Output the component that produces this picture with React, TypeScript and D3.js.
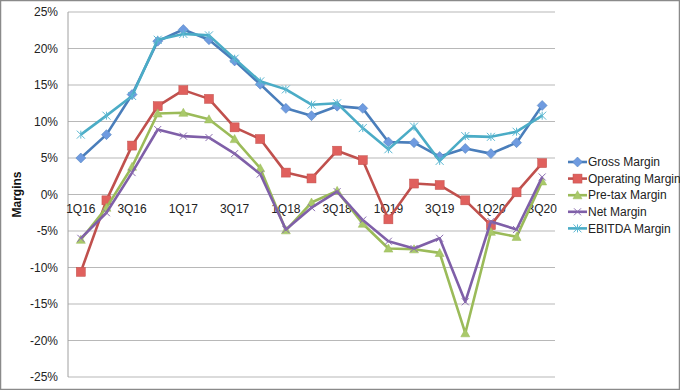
import React from "react";
import * as d3 from "d3";

const categories = ["1Q16","2Q16","3Q16","4Q16","1Q17","2Q17","3Q17","4Q17","1Q18","2Q18","3Q18","4Q18","1Q19","2Q19","3Q19","4Q19","1Q20","2Q20","3Q20"];
const grossMargin = [5.0, 8.2, 13.7, 21.0, 22.6, 21.2, 18.3, 15.1, 11.8, 10.8, 12.1, 11.8, 7.2, 7.1, 5.2, 6.3, 5.6, 7.1, 12.2];
const operatingMargin = [-10.6, -0.8, 6.7, 12.1, 14.3, 13.1, 9.2, 7.6, 3.0, 2.2, 6.0, 4.7, -3.4, 1.5, 1.3, -0.8, -4.2, 0.3, 4.3];
const pretaxMargin = [-6.2, -1.8, 3.8, 11.1, 11.2, 10.3, 7.6, 3.6, -4.9, -1.1, 0.5, -4.0, -7.4, -7.5, -8.0, -19.0, -5.1, -5.8, 1.8];
const netMargin = [-6.0, -2.5, 3.0, 8.9, 8.0, 7.8, 5.6, 2.8, -4.8, -1.8, 0.4, -3.5, -6.4, -7.4, -6.0, -14.7, -3.7, -4.8, 2.4];
const ebitdaMargin = [8.2, 10.8, 13.5, 21.2, 22.0, 21.8, 18.6, 15.5, 14.4, 12.3, 12.5, 9.1, 6.2, 9.3, 4.6, 8.0, 7.9, 8.6, 10.8];
const yTicks = [25, 20, 15, 10, 5, 0, -5, -10, -15, -20, -25];
const seriesNames = ["Gross Margin", "Operating Margin", "Pre-tax Margin", "Net Margin", "EBITDA Margin"];

const seriesData = [grossMargin, operatingMargin, pretaxMargin, netMargin, ebitdaMargin];
const colors = ["#4a7ebb", "#c0504d", "#9bbb59", "#7f5fa8", "#4bacc6"];
const markerColors = ["#6f9be0", "#e0605d", "#a9c96a", "#8a6cb0", "#5cb8d2"];
const markerTypes = ["diamond", "square", "triangle", "x", "star"];

const W = 680, H = 390;
const plotL = 68, plotR = 555, plotT = 12, plotB = 377;
const font = "'Liberation Sans', Arial, sans-serif";

function Marker({ type, x, y, color, stroke }: { type: string; x: number; y: number; color: string; stroke: string }) {
  if (type === "diamond") {
    const s = 5;
    return <path d={`M${x},${y - s}L${x + s},${y}L${x},${y + s}L${x - s},${y}Z`} fill={color} stroke={stroke} strokeWidth={0.5} />;
  }
  if (type === "square") {
    const s = 4.5;
    return <rect x={x - s} y={y - s} width={2 * s} height={2 * s} fill={color} stroke={stroke} strokeWidth={0.5} />;
  }
  if (type === "triangle") {
    const s = 4.5;
    return <path d={`M${x},${y - s}L${x + s},${y + s * 0.8}L${x - s},${y + s * 0.8}Z`} fill={color} stroke={stroke} strokeWidth={0.5} />;
  }
  if (type === "x") {
    const s = 3.5;
    return <path d={`M${x - s},${y - s}L${x + s},${y + s}M${x - s},${y + s}L${x + s},${y - s}`} stroke={color} strokeWidth={1} />;
  }
  const s = 4;
  return <path d={`M${x - s},${y - s}L${x + s},${y + s}M${x - s},${y + s}L${x + s},${y - s}M${x},${y - s}L${x},${y + s}`} stroke={color} strokeWidth={1} />;
}

export default function App() {
  const x = d3.scaleBand<string>().domain(categories).range([plotL, plotR]);
  const y = d3.scaleLinear().domain([-25, 25]).range([plotB, plotT]);
  const cx = (c: string) => (x(c) as number) + x.bandwidth() / 2;
  const line = d3.line<number>().x((_, i) => cx(categories[i])).y((d) => y(d));

  const legendX = 568, legendY0 = 162, legendStep = 16.6;

  return (
    <svg width={W} height={H} style={{ position: "absolute", left: 0, top: 0, background: "#fff" }}>
      <rect x={0} y={0} width={W} height={H} fill="#fff" />
      <rect x={0.5} y={0.5} width={W - 1} height={H - 1} fill="none" stroke="#8a8a8a" strokeWidth={1.5} />
      {yTicks.map((t) => (
        <g key={t}>
          <line x1={plotL} x2={plotR} y1={y(t)} y2={y(t)} stroke="#b8b8b8" strokeWidth={1.2} />
          <text x={plotL - 10} y={y(t)} dy="0.35em" textAnchor="end" fontFamily={font} fontSize={12} fill="#222">
            {t}%
          </text>
        </g>
      ))}
      <line x1={plotL} x2={plotL} y1={plotT} y2={plotB} stroke="#a0a0a0" strokeWidth={1} />
      {categories.map((c, i) =>
        i % 2 === 0 ? (
          <text key={c} x={cx(c)} y={y(0) + 18} textAnchor="middle" fontFamily={font} fontSize={12} fill="#222">
            {c}
          </text>
        ) : null
      )}
      <text transform={`translate(21,${(plotT + plotB) / 2}) rotate(-90)`} textAnchor="middle" fontFamily={font} fontSize={12} fontWeight="bold" fill="#111">
        Margins
      </text>
      {seriesData.map((data, si) => (
        <g key={si}>
          <path d={line(data) || ""} fill="none" stroke={colors[si]} strokeWidth={2.6} strokeLinejoin="round" />
          {data.map((v, i) => (
            <Marker key={i} type={markerTypes[si]} x={cx(categories[i])} y={y(v)} color={markerColors[si]} stroke={colors[si]} />
          ))}
        </g>
      ))}
      {seriesNames.map((n, si) => {
        const ly = legendY0 + si * legendStep;
        return (
          <g key={n}>
            <line x1={legendX} x2={legendX + 19} y1={ly} y2={ly} stroke={colors[si]} strokeWidth={2.6} />
            <Marker type={markerTypes[si]} x={legendX + 9.5} y={ly} color={markerColors[si]} stroke={colors[si]} />
            <text x={legendX + 20} y={ly} dy="0.35em" fontFamily={font} fontSize={12} fill="#222">
              {n}
            </text>
          </g>
        );
      })}
    </svg>
  );
}
